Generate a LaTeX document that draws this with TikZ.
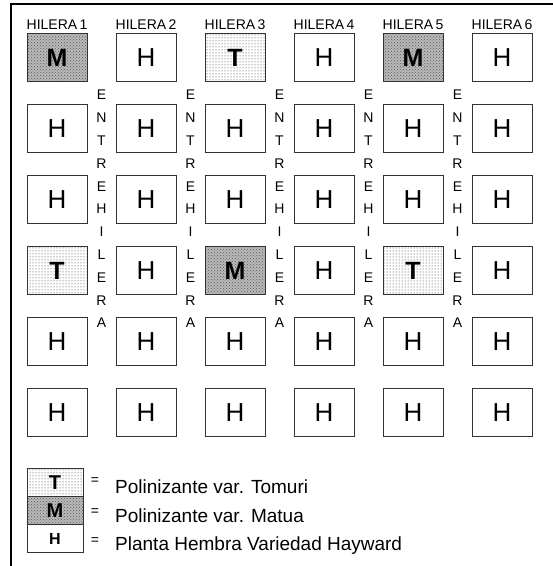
\documentclass[tikz,border=0pt]{standalone}
\usepackage{fontspec}
\setmainfont{Liberation Sans}
\usetikzlibrary{patterns,positioning}

\begin{document}
\begin{tikzpicture}[
  x=1pt, y=-1pt,
  planta/.style={draw=black!80, line width=1pt, inner sep=0pt, outer sep=0pt,
                 minimum width=60pt, minimum height=48pt},
  plantaH/.style={planta, fill=white, font=\fontsize{26}{26}\selectfont},
  plantaT/.style={planta, preaction={fill=white}, pattern=dots,
                  pattern color=black!85, font=\fontsize{25}{25}\selectfont\bfseries},
  plantaM/.style={planta, preaction={fill=gray!55}, pattern=crosshatch dots,
                  pattern color=black!65, font=\fontsize{25}{25}\selectfont\bfseries},
  hilera/.style={font=\fontsize{14}{14}\selectfont, anchor=base},
  entre/.style={font=\fontsize{14}{22.8}\selectfont, align=center, inner sep=0pt},
  muestra/.style={minimum width=56pt, minimum height=28pt},
  igual/.style={font=\fontsize{14}{14}\selectfont, inner sep=0pt},
  leyenda/.style={font=\fontsize{19}{19}\selectfont, anchor=base west, inner sep=0pt}
]
\useasboundingbox (0,0) rectangle (553,566);
% marco
\draw[line width=1.5pt] (11,566) -- (11,4) -- (553,4);

% titulos de hileras
\foreach \c in {1,...,6}
  \node[hilera] (hil\c) at (57+89*\c-89, 29) {HILERA\,\c};

% plantas, fila por fila
\foreach \tipo [count=\c] in {M,H,T,H,M,H}
  \node[planta\tipo] (p1\c) at (57+89*\c-89, 57.5) {\tipo};
\foreach \tipo [count=\c] in {H,H,H,H,H,H}
  \node[planta\tipo] (p2\c) at (57+89*\c-89, 128.5) {\tipo};
\foreach \tipo [count=\c] in {H,H,H,H,H,H}
  \node[planta\tipo] (p3\c) at (57+89*\c-89, 199.5) {\tipo};
\foreach \tipo [count=\c] in {T,H,M,H,T,H}
  \node[planta\tipo] (p4\c) at (57+89*\c-89, 270.5) {\tipo};
\foreach \tipo [count=\c] in {H,H,H,H,H,H}
  \node[planta\tipo] (p5\c) at (57+89*\c-89, 341.5) {\tipo};
\foreach \tipo [count=\c] in {H,H,H,H,H,H}
  \node[planta\tipo] (p6\c) at (57+89*\c-89, 412.5) {\tipo};

% entrehileras
\foreach \c in {1,...,5}
  \node[entre] (ent\c) at (57+89*\c-44.5, 209) {E\\N\\T\\R\\E\\H\\I\\L\\E\\R\\A};

% leyenda
\node[plantaT, muestra, font=\fontsize{20}{20}\selectfont\bfseries] (legT) at (55,482.5) {T};
\node[plantaM, muestra, font=\fontsize{20}{20}\selectfont\bfseries, below=0pt of legT] (legM) {M};
\node[plantaH, muestra, font=\fontsize{16}{16}\selectfont\bfseries, below=0pt of legM] (legH) {H};
\node[igual] (igT) at (95,481) {=};
\node[igual] (igM) at (95,512) {=};
\node[igual] (igH) at (95,541) {=};
\node[leyenda] (txtT) at (115,493) {Polinizante var. Tomuri};
\node[leyenda] (txtM) at (115,522) {Polinizante var. Matua};
\node[leyenda] (txtH) at (115,550) {Planta Hembra Variedad Hayward};
\end{tikzpicture}
\end{document}
